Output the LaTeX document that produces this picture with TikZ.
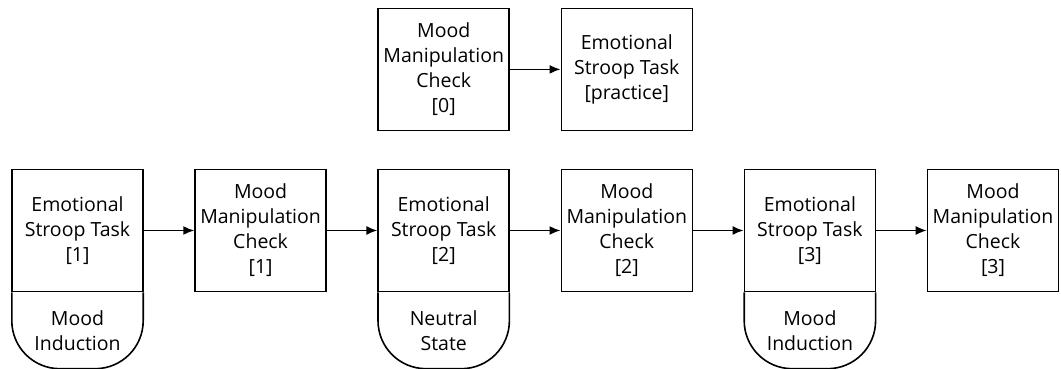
\documentclass[tikz,border=0pt]{standalone}
\usepackage{fontspec}
\setmainfont{Open Sans}
\usetikzlibrary{positioning, arrows.meta}

\tikzset{
  task/.style={draw, line width=1.6pt, minimum width=131pt, minimum height=122pt,
    inner sep=0pt, align=center, font=\fontsize{19.5}{25}\selectfont},
  phase/.style={minimum width=131pt, minimum height=76pt, inner sep=0pt,
    align=center, font=\fontsize{19.5}{25}\selectfont},
  flow/.style={line width=1.6pt, -{Latex[length=11pt,width=9pt]}}
}

\begin{document}
\begin{tikzpicture}[x=1pt, y=1pt, node distance=50.5pt]
  \useasboundingbox (0,0) rectangle (1061,369);
  % main row
  \node[task] (est1) at (77.5,138.5) {Emotional\\Stroop Task\\{[1]}};
  \node[task, right=of est1] (mmc1) {Mood\\Manipulation\\Check\\{[1]}};
  \node[task, right=of mmc1] (est2) {Emotional\\Stroop Task\\{[2]}};
  \node[task, right=of est2] (mmc2) {Mood\\Manipulation\\Check\\{[2]}};
  \node[task, right=of mmc2] (est3) {Emotional\\Stroop Task\\{[3]}};
  \node[task, right=of est3] (mmc3) {Mood\\Manipulation\\Check\\{[3]}};
  % practice row
  \node[task, above=37.5pt of est2] (mmc0) {Mood\\Manipulation\\Check\\{[0]}};
  \node[task, above=37.5pt of mmc2] (prac) {Emotional\\Stroop Task\\{[practice]}};
  % states under the stroop tasks
  \node[phase, below=0pt of est1] (st1) {Mood\\Induction};
  \node[phase, below=0pt of est2] (st2) {Neutral\\State};
  \node[phase, below=0pt of est3] (st3) {Mood\\Induction};
  \foreach \s in {st1,st2,st3}
    \draw[line width=1.6pt, rounded corners=48pt]
      (\s.north west) -- (\s.south west) -- (\s.south east) -- (\s.north east);
  % arrows
  \draw[flow] (mmc0) -- (prac);
  \draw[flow] (est1) -- (mmc1);
  \draw[flow] (mmc1) -- (est2);
  \draw[flow] (est2) -- (mmc2);
  \draw[flow] (mmc2) -- (est3);
  \draw[flow] (est3) -- (mmc3);
\end{tikzpicture}
\end{document}
